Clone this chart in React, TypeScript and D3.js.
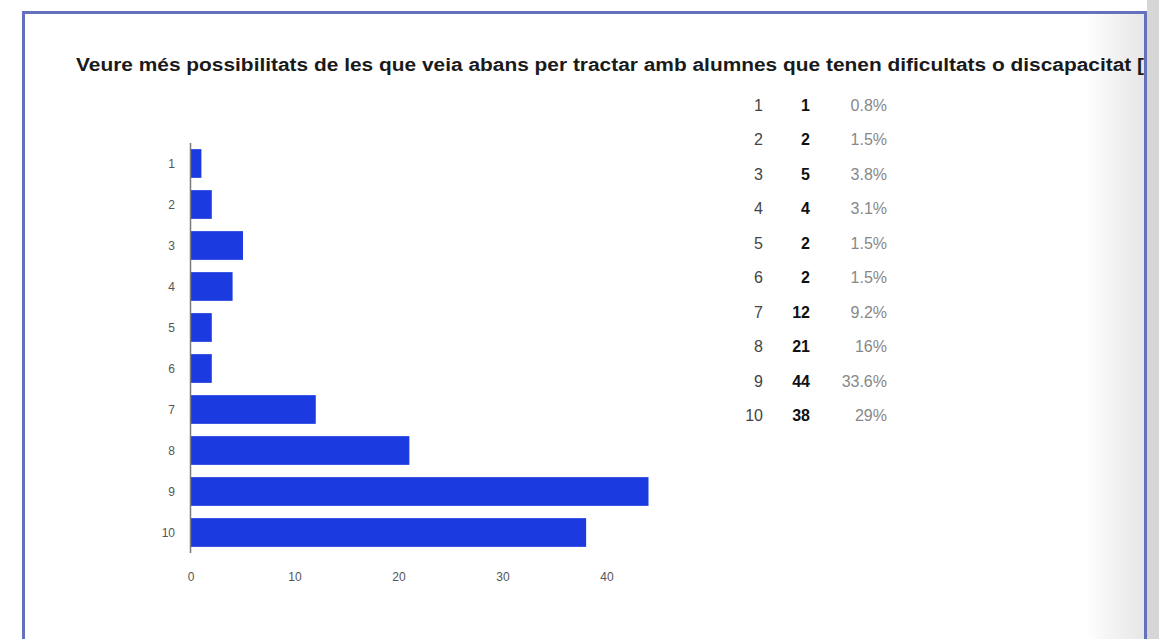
import React from "react";
import * as d3 from "d3";

const title =
  "Veure més possibilitats de les que veia abans per tractar amb alumnes que tenen dificultats o discapacitat [";
const categories = ["1", "2", "3", "4", "5", "6", "7", "8", "9", "10"];
const counts = [1, 2, 5, 4, 2, 2, 12, 21, 44, 38];
const percents = ["0.8%", "1.5%", "3.8%", "3.1%", "1.5%", "1.5%", "9.2%", "16%", "33.6%", "29%"];
const xTicks = [0, 10, 20, 30, 40];

const W = 1159;
const H = 639;
const font = "'Liberation Sans', Arial, sans-serif";

export default function App() {
  const x = d3.scaleLinear().domain([0, 44]).range([191, 648.5]);
  const y = d3
    .scaleBand<string>()
    .domain(categories)
    .range([143, 553])
    .paddingInner(0.3)
    .paddingOuter(0.15);

  // table rows
  const rowY = d3.scalePoint<string>().domain(categories).range([111, 421]);

  return (
    <svg
      width={W}
      height={H}
      style={{ position: "absolute", left: 0, top: 0, background: "#fff" }}
    >
      <defs>
        <linearGradient id="shade" x1="0" x2="1" y1="0" y2="0">
          <stop offset="0" stopColor="#fff" />
          <stop offset="1" stopColor="#e6e6e6" />
        </linearGradient>
        <clipPath id="inside">
          <rect x={24} y={13} width={1120} height={H} />
        </clipPath>
      </defs>

      {/* page frame */}
      <rect x={1085} y={13} width={60} height={H} fill="url(#shade)" />
      <rect x={1147} y={0} width={12} height={H} fill="#d6d6d6" />
      <path
        d={`M23.5,${H} V12.5 H1145.5 V${H}`}
        fill="none"
        stroke="#6471bd"
        strokeWidth={3}
      />

      <g clipPath="url(#inside)">
        <text
          x={76}
          y={71}
          fontFamily={font}
          fontWeight="bold"
          fontSize={18}
          fill="#1a1a1a"
          textLength={1068}
          lengthAdjust="spacingAndGlyphs"
        >
          {title}
        </text>
      </g>

      {/* bars */}
      {categories.map((c, i) => (
        <rect
          key={c}
          x={x(0)}
          y={y(c)}
          width={x(counts[i]) - x(0)}
          height={y.bandwidth()}
          fill="#1b3ae0"
        />
      ))}

      <line x1={190.5} x2={190.5} y1={143} y2={553} stroke="#7a7a7a" strokeWidth={1.5} />

      {categories.map((c) => (
        <text
          key={c}
          x={175}
          y={(y(c) ?? 0) + y.bandwidth() / 2 + 4}
          textAnchor="end"
          fontFamily={font}
          fontSize={12}
          fill="#555"
        >
          {c}
        </text>
      ))}

      {xTicks.map((t) => (
        <text
          key={t}
          x={x(t)}
          y={581}
          textAnchor="middle"
          fontFamily={font}
          fontSize={12}
          fill="#555"
        >
          {t}
        </text>
      ))}

      {/* summary table */}
      {categories.map((c, i) => (
        <g key={c} fontFamily={font} fontSize={16}>
          <text x={763} y={rowY(c)} textAnchor="end" fill="#444">
            {c}
          </text>
          <text x={810} y={rowY(c)} textAnchor="end" fill="#111" fontWeight="bold">
            {counts[i]}
          </text>
          <text x={887} y={rowY(c)} textAnchor="end" fill="#888">
            {percents[i]}
          </text>
        </g>
      ))}
    </svg>
  );
}
